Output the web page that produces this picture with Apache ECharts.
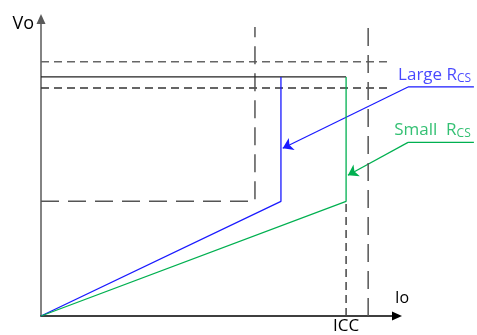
<!DOCTYPE html>
<html>
<head>
<meta charset="utf-8">
<script src="https://cdn.jsdelivr.net/npm/echarts@6/dist/echarts.min.js"></script>
<style>
  html, body { margin: 0; padding: 0; background: #fff; }
  #chart { width: 477px; height: 335px; }
</style>
</head>
<body>
<div id="chart"></div>
<script>
// axis units: Io 0..100, Vo 0..100 (relative)
const regLine = [[0, 80.5], [85.7, 80.5]];            // regulated Vo
const largeRcs = [[67.4, 80.5], [67.4, 38.6], [0, 0]];  // large R_CS curve
const smallRcs = [[85.7, 80.5], [85.7, 38.6], [0, 0]];  // small R_CS curve
const vUpper = [[0, 85.6], [98, 85.6]];
const vLower = [[0, 76.8], [98, 76.8]];
const boxLimit = [[0, 38.6], [60.1, 38.6], [60.1, 97.3]];
const iLimit = [[91.9, 0], [91.9, 97.3]];
const iccDrop = [[85.7, 0], [85.7, 38.6]];
const xTickValues = [85.7];
const xTickLabels = ['ICC'];
// annotation leaders (drawn on a wider overlay grid, same units)
const largeLeader = [[121.6, 77.2], [103.1, 77.2]];
const largeArrow = [[103.1, 77.2], [67.9, 56.6]];
const smallLeader = [[121.6, 58.6], [103.1, 58.6]];
const smallArrow = [[103.1, 58.6], [86.2, 47.6]];
const labelPos = [[100.3, 81.2], [99.2, 62.6]];

const BLUE = '#1a1aff';
const GREEN = '#00b050';
const FONT = 'Open Sans';

const chart = echarts.init(document.getElementById('chart'));

function seg(data, color, width, type, idx) {
  return {
    type: 'line', data: data, symbol: 'none', silent: true, clip: false,
    xAxisIndex: idx || 0, yAxisIndex: idx || 0,
    lineStyle: { color: color, width: width, type: type || 'solid' }
  };
}

function arrow(coords, color) {
  return {
    type: 'lines', coordinateSystem: 'cartesian2d', clip: false, silent: true,
    xAxisIndex: 1, yAxisIndex: 1,
    symbol: ['none', 'arrow'], symbolSize: [8, 10],
    lineStyle: { color: color, width: 1.2, opacity: 1, curveness: 0 },
    data: [{ coords: coords }]
  };
}

function rcsLabel(pos, word, color) {
  return {
    type: 'scatter', data: [pos], symbolSize: 0, silent: true, clip: false,
    xAxisIndex: 1, yAxisIndex: 1,
    label: {
      show: true, position: 'right', distance: 0,
      formatter: word + ' R{sub|CS}',
      color: color, fontFamily: FONT, fontSize: 17,
      rich: {
        sub: { color: color, fontFamily: FONT, fontSize: 12, padding: [7, 0, 0, 0] }
      }
    }
  };
}

const hidden = { show: false };

let option = {
  backgroundColor: '#fff',
  animation: false,
  grid: [
    { left: 41, right: 80, top: 19, bottom: 18 },
    // overlay grid reaching the right edge, same scale as grid 0
    { left: 41, right: 0, top: 19, bottom: 18 }
  ],
  xAxis: [{
    type: 'value', min: 0, max: 100,
    name: 'Io', nameLocation: 'end', nameGap: -2,
    nameTextStyle: { color: '#000', fontFamily: FONT, fontSize: 16, align: 'left', verticalAlign: 'bottom', padding: [0, 0, 10, 0] },
    axisLine: { show: true, symbol: ['none', 'triangle'], symbolSize: [9, 10], lineStyle: { color: '#000', width: 1.5 } },
    axisTick: { show: false },
    splitLine: { show: false },
    axisLabel: {
      show: true, customValues: xTickValues, margin: 2,
      formatter: v => xTickLabels[xTickValues.indexOf(v)] || '',
      color: '#000', fontFamily: FONT, fontSize: 17
    }
  }, {
    gridIndex: 1, type: 'value', min: 0, max: 122.47,
    axisLine: hidden, axisTick: hidden, axisLabel: hidden, splitLine: hidden
  }],
  yAxis: [{
    type: 'value', min: 0, max: 100,
    name: 'Vo', nameLocation: 'end', nameGap: -5,
    nameTextStyle: { color: '#000', fontFamily: FONT, fontSize: 18, align: 'right', verticalAlign: 'middle', padding: [0, 7, 0, 0] },
    axisLine: { show: true, symbol: ['none', 'triangle'], symbolSize: [9, 10], lineStyle: { color: '#5a5a5a', width: 1.5 } },
    axisTick: { show: false },
    splitLine: { show: false },
    axisLabel: { show: false }
  }, {
    gridIndex: 1, type: 'value', min: 0, max: 100,
    axisLine: hidden, axisTick: hidden, axisLabel: hidden, splitLine: hidden
  }],
  series: [
    seg(vUpper, '#666', 1.5, [8, 5]),
    seg(vLower, '#333', 1.5, [8, 5]),
    seg(boxLimit, '#555', 1.5, [18, 9]),
    seg(iLimit, '#555', 1.5, [18, 9]),
    seg(iccDrop, '#444', 1.5, [8, 5]),
    seg(regLine, '#222', 1.2),
    seg(largeRcs, BLUE, 1.3),
    seg(smallRcs, GREEN, 1.3),
    seg(largeLeader, BLUE, 1.2, 'solid', 1),
    seg(smallLeader, GREEN, 1.2, 'solid', 1),
    arrow(largeArrow, BLUE),
    arrow(smallArrow, GREEN),
    rcsLabel(labelPos[0], 'Large', BLUE),
    rcsLabel(labelPos[1], 'Small ', GREEN)
  ]
};

chart.setOption(option);
</script>
</body>
</html>
